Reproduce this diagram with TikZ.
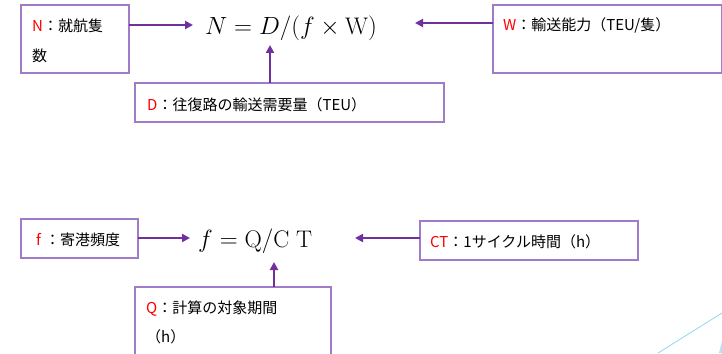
\documentclass[tikz,border=0pt]{standalone}
\usepackage{fontspec}
\newfontfamily\jp{Noto Sans CJK JP}
\usetikzlibrary{arrows.meta,calc}
\definecolor{arrpurple}{HTML}{7030A0}
\definecolor{boxpurple}{HTML}{A07CC8}
\definecolor{skyline}{HTML}{8FD6F2}
\begin{document}
\begin{tikzpicture}[x=1pt,y=-1pt,
  box/.style={draw=boxpurple,line width=1.2pt,fill=white},
  lbl/.style={anchor=base west,inner sep=0pt,font=\jp\fontsize{15}{18}\selectfont},
  frm/.style={anchor=base west,inner sep=0pt},
  arr/.style={draw=arrpurple,line width=2.1pt,-{Triangle[length=8pt,width=8pt]}}]
\useasboundingbox (0,0) rectangle (722,353);
% background decoration
\draw[skyline,line width=0.8pt] (658,353) -- (722,313);
\fill[skyline!70] (719,353) -- (722,341) -- (722,353) -- cycle;
% boxes
\draw[box] (21,5) rectangle (129,73);
\coordinate (NboxE) at (129,25);
\draw[box] (135,83) rectangle (444,122);
\coordinate (DboxN) at (270,83);
\draw[box] (493,5) rectangle (721.4,73);
\coordinate (WboxW) at (493,23);
\draw[box] (21,219) rectangle (138,258);
\coordinate (fboxE) at (138,238);
\draw[box] (420,221) rectangle (638,260);
\coordinate (CTboxW) at (420,238);
\draw[box] (135,287) rectangle (331,360);
\coordinate (QboxN) at (274,287);
% labels
\node[lbl] (Nl1) at (32,32) {{\color{red}N}：就航隻};
\node[lbl] (Nl2) at (32,61) {数};
\node[lbl] (Dl) at (147,110) {{\color{red}D}：往復路の輸送需要量（TEU）};
\node[lbl] (Wl) at (503,31) {{\color{red}W}：輸送能力（TEU/隻）};
\node[lbl] (fl) at (36,245) {{\color{red}f}\hspace{4pt}：寄港頻度};
\node[lbl] (CTl) at (430,247) {{\color{red}CT}：1サイクル時間（h）};
\node[lbl] (Ql1) at (146,313) {{\color{red}Q}：計算の対象期間};
\node[lbl] (Ql2) at (146,342) {（h）};
% formulas
\node[frm] (formN) at (205,35) {\fontsize{24}{28}\selectfont$N=D/(f\times\mathrm{W})$};
\node[frm] (formf) at (198,247) {\fontsize{24}{28}\selectfont$f=\mathrm{Q}/\mathrm{C}\;\mathrm{T}$};
\coordinate (NtipL) at (193,25);
\coordinate (NtipR) at (415,23);
\coordinate (NtipB) at (270,45);
\coordinate (ftipL) at (190,238);
\coordinate (ftipR) at (355,238);
\coordinate (ftipB) at (274,262);
% arrows
\draw[arr] (NboxE) -- (NtipL);
\draw[arr] (WboxW) -- (NtipR);
\draw[arr] (DboxN) -- (NtipB);
\draw[arr] (fboxE) -- (ftipL);
\draw[arr] (CTboxW) -- (ftipR);
\draw[arr] (QboxN) -- (ftipB);
\end{tikzpicture}
\end{document}
